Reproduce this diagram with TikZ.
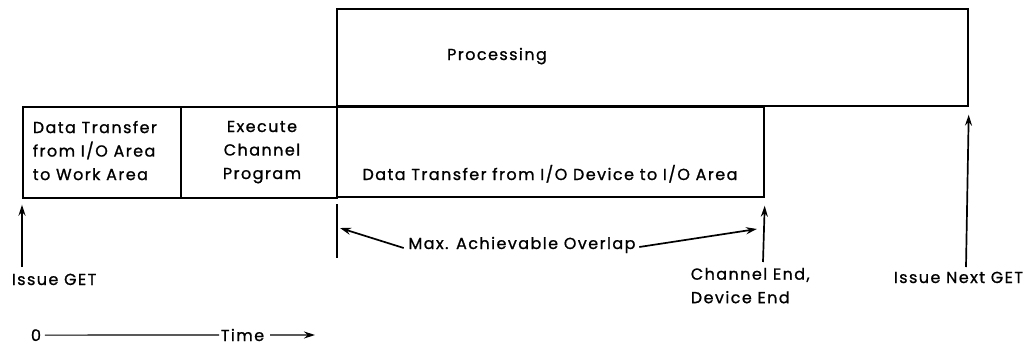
\documentclass[tikz,border=0pt]{standalone}
\usepackage{fontspec}
\setmainfont{Poppins}[LetterSpace=9,FakeBold=1]
\usetikzlibrary{arrows.meta}
\begin{document}
\begin{tikzpicture}[x=1pt,y=-1pt,
  line width=1.7pt,
  box/.style={draw,rectangle,inner sep=0pt,anchor=north west},
  txt/.style={inner sep=0pt,font=\fontsize{16}{23.5}\selectfont},
  arr/.style={-{Stealth[length=11pt,width=7pt]}}]
\useasboundingbox (0,0) rectangle (1034,349);
% boxes
\node[box,minimum width=158pt,minimum height=91pt] (b1) at (22,106) {};
\node[box,minimum width=156pt,minimum height=91pt] (b2) at (180,106) {};
\node[box,minimum width=427pt,minimum height=90pt] (b3) at (336,106) {};
\node[box,minimum width=631pt,minimum height=97pt] (proc) at (336,8) {};
% texts
\node[txt,align=left,anchor=north west] (t1) at (32,120) {Data Transfer\\from I/O Area\\to Work Area};
\node[txt,align=center,anchor=north] (t2) at (262,120) {Execute\\Channel\\Program};
\node[txt,anchor=base] (t3) at (550,180) {Data Transfer from I/O Device to I/O Area};
\node[txt,anchor=base] (t4) at (497,60) {Processing};
% markers
\coordinate (g1) at (22,267);
\draw[arr] (g1) -- ([yshift=-6pt]b1.south west);
\node[txt,anchor=base west] (lg1) at (11,285) {Issue GET};
\coordinate (tk1) at (337,204);
\coordinate (tk2) at (337,258);
\draw[line width=1.2pt] (tk1) -- (tk2);
\node[txt,anchor=base] (ov) at (522,249) {Max. Achievable Overlap};
\coordinate (ovl) at (340,228);
\coordinate (ovr) at (757,229);
\draw[arr] ([xshift=-4pt,yshift=-3pt]ov.west) -- (ovl);
\draw[arr] ([xshift=3pt,yshift=-2pt]ov.east) -- (ovr);
\coordinate (ce) at (763,262);
\draw[arr] (ce) -- ([yshift=-8pt]b3.south east);
\node[txt,align=left,anchor=north west] (lce) at (690,267) {Channel End,\\Device End};
\coordinate (ng) at (966,267);
\draw[arr] (ng) -- ([yshift=-8pt]proc.south east);
\node[txt,anchor=base west] (lng) at (893,283) {Issue Next GET};
% time axis
\node[txt,anchor=base] (zero) at (36,341) {0};
\node[txt,anchor=base west] (time) at (220,341) {Time};
\coordinate (te) at (315,335);
\draw[line width=1.2pt] ([xshift=3pt]zero.east) -- ([xshift=-1pt]time.west);
\draw[arr,line width=1.2pt] ([xshift=5pt]time.east) -- (te);
\end{tikzpicture}
\end{document}
